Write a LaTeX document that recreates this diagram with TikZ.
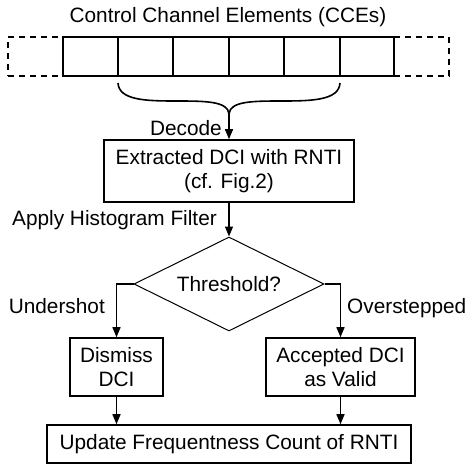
\documentclass[tikz,border=0pt]{standalone}
\usepackage{fontspec}
\setmainfont{Liberation Sans}
\usetikzlibrary{shapes.geometric,arrows.meta}
\begin{document}
\begin{tikzpicture}[x=1pt,y=-1pt,
  every node/.style={font=\fontsize{20.8}{24}\selectfont, inner sep=0pt},
  cce/.style={draw, line width=1.8pt, outer sep=0pt, minimum width=55pt, minimum height=39pt, anchor=west},
  ccedash/.style={draw, line width=1.6pt, outer sep=0pt, dash pattern=on 6pt off 5pt, minimum width=55pt, minimum height=39pt},
  procbox/.style={draw, line width=1.6pt, align=center},
  decision/.style={draw, diamond, line width=1pt, minimum width=190pt, minimum height=94pt},
  lbl/.style={},
  arr/.style={line width=1.4pt, -{Triangle[length=10pt,width=8pt]}},
  bracestyle/.style={line width=1.6pt}]
\useasboundingbox (0,0) rectangle (472,466);
\node[lbl, anchor=base] (title) at (228,22.5) {Control Channel Elements (CCEs)};
\node[ccedash, anchor=east] (c0) at (63,56.5) {};
\node[ccedash, anchor=west] (c7) at (394,56.5) {};
\node[cce] (c1) at (63,56.5) {};
\node[cce] (c2) at (c1.east) {};
\node[cce, minimum width=56pt] (c3) at (c2.east) {};
\node[cce] (c4) at (c3.east) {};
\node[cce, minimum width=56pt] (c5) at (c4.east) {};
\node[cce, minimum width=54pt] (c6) at (c5.east) {};
\coordinate (bl) at ([yshift=-7pt]c2.south west);
\coordinate (br) at ([yshift=-7pt]c6.south west);
\coordinate (btip) at (229,114);
\draw[bracestyle] (bl) .. controls (119,100) and (145,101) .. (175,101)
  .. controls (205,101) and (228,101) .. (btip);
\draw[bracestyle] (br) .. controls (339,100) and (313,101) .. (283,101)
  .. controls (253,101) and (230,101) .. (btip);
\node[procbox, minimum width=250pt, minimum height=62pt] (ext) at (229,171) {Extracted DCI with RNTI\\(cf. Fig.2)};
\draw[arr] (btip) -- (ext.north);
\node[lbl, anchor=base east] (dec) at (222,135) {Decode};
\node[decision] (dia) at (229,284) {};
\node[lbl, anchor=base] (thr) at (229,291.5) {Threshold?};
\draw[arr] (ext.south) -- (dia.north);
\node[lbl, anchor=base east] (ahf) at (217,225) {Apply Histogram Filter};
\node[procbox, minimum width=93pt, minimum height=58pt] (dis) at (116.5,367) {Dismiss\\DCI};
\node[procbox, minimum width=149pt, minimum height=58pt] (acc) at (340.5,367) {Accepted DCI\\as Valid};
\node[procbox, minimum width=364pt, minimum height=38pt] (upd) at (229,444) {Update Frequentness Count of RNTI};
\draw[arr] (dia.west) -| (dis.north);
\draw[arr] (dia.east) -| (acc.north);
\node[lbl, anchor=base east] (und) at (105,313.5) {Undershot};
\node[lbl, anchor=base west] (ovs) at (347,313.5) {Overstepped};
\draw[arr] (dis.south) -- (dis.south |- upd.north);
\draw[arr] (acc.south) -- (acc.south |- upd.north);
\end{tikzpicture}
\end{document}
